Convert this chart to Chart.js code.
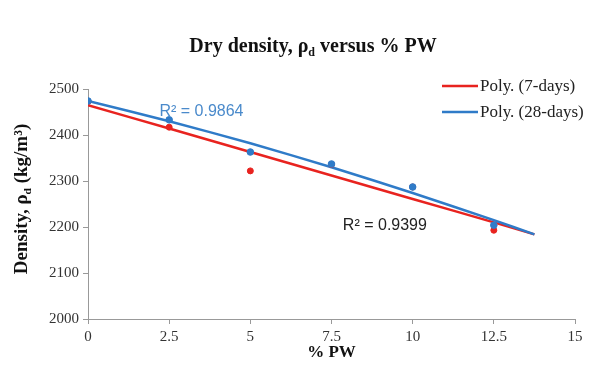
<!DOCTYPE html>
<html>
<head>
<meta charset="utf-8">
<script src="https://cdn.jsdelivr.net/npm/chart.js@4.4.1/dist/chart.umd.min.js"></script>
<style>
  html, body { margin: 0; padding: 0; background: #fff; }
</style>
</head>
<body>
<canvas id="grafico" width="605" height="365"></canvas>
<script>
// % PW values
const pw = [0, 2.5, 5, 7.5, 10, 12.5];
// measured dry density (kg/m3)
const dens7 = [2473, 2417, 2322, 2336, 2287, 2193];
const dens28 = [2474, 2433, 2363, 2337, 2287, 2204];
// polynomial trendlines
const trendX = [0, 2.5, 5, 7.5, 10, 12.5, 13.75];
const trend7 = [2465, 2414, 2363, 2312, 2261, 2210, 2184];
const trend28 = [2474, 2430, 2382, 2330, 2274, 2215, 2184];
const r2_7 = "R\u00B2 = 0.9399";
const r2_28 = "R\u00B2 = 0.9864";

const rojo = "#e8231f";
const azul = "#2f7bc8";
const serif = "'Liberation Serif', 'Times New Roman', serif";

const pares = (xs, ys) => xs.map((x, i) => ({ x: x, y: ys[i] }));

// draws text pieces in a row, "sub" pieces smaller and lowered
function textoConSub(ctx, partes, x, y, size, centrado) {
    const medir = p => {
        ctx.font = "bold " + (p.sub ? size * 0.6 : size) + "px " + serif;
        return ctx.measureText(p.t).width;
    };
    const total = partes.reduce((s, p) => s + medir(p), 0);
    let cx = centrado ? x - total / 2 : x;
    partes.forEach(p => {
        const w = medir(p);
        ctx.fillText(p.t, cx, p.sub ? y + size * 0.3 : y);
        cx += w;
    });
}

const textos = {
    id: "textos",
    afterDraw(chart) {
        const ctx = chart.ctx;
        ctx.save();
        ctx.textBaseline = "middle";
        ctx.textAlign = "left";
        ctx.fillStyle = "#111";
        // title
        textoConSub(ctx, [{ t: "Dry density, \u03C1" }, { t: "d", sub: true }, { t: " versus % PW" }],
            313, 47, 20, true);
        // y axis title
        ctx.save();
        ctx.translate(22, 199);
        ctx.rotate(-Math.PI / 2);
        textoConSub(ctx, [{ t: "Density, \u03C1" }, { t: "d", sub: true }, { t: " (kg/m\u00B3)" }],
            0, 0, 19, true);
        ctx.restore();

        // legend
        const items = [
            { texto: "Poly. (7-days)", color: rojo, y: 86 },
            { texto: "Poly. (28-days)", color: azul, y: 112 }
        ];
        ctx.font = "17px " + serif;
        items.forEach(it => {
            ctx.strokeStyle = it.color;
            ctx.lineWidth = 2.5;
            ctx.beginPath();
            ctx.moveTo(442, it.y);
            ctx.lineTo(478, it.y);
            ctx.stroke();
            ctx.fillStyle = "#222";
            ctx.fillText(it.texto, 480, it.y + 1);
        });
        // R² labels anchored to the scales
        const sx = chart.scales.x, sy = chart.scales.y;
        ctx.font = "16px 'Liberation Sans', Arial, sans-serif";
        ctx.fillStyle = "#4a8acb";
        ctx.fillText(r2_28, sx.getPixelForValue(2.2), sy.getPixelForValue(2450));
        ctx.fillStyle = "#222";
        ctx.fillText(r2_7, sx.getPixelForValue(7.85), sy.getPixelForValue(2204));
        ctx.restore();
    }
};

new Chart(document.getElementById("grafico"), {
    type: "scatter",
    data: {
        datasets: [
            {
                label: "28-days",
                data: pares(pw, dens28),
                backgroundColor: azul,
                borderColor: azul,
                pointRadius: 3.3
            },
            {
                label: "7-days",
                data: pares(pw, dens7),
                backgroundColor: rojo,
                borderColor: rojo,
                pointRadius: 3
            },
            {
                label: "Poly. (28-days)",
                data: pares(trendX, trend28),
                showLine: true,
                borderColor: azul,
                borderWidth: 2.5,
                pointRadius: 0,
                tension: 0.2
            },
            {
                label: "Poly. (7-days)",
                data: pares(trendX, trend7),
                showLine: true,
                borderColor: rojo,
                borderWidth: 2.5,
                pointRadius: 0,
                tension: 0.2
            }
        ]
    },
    options: {
        responsive: false,
        animation: false,
        layout: { padding: { top: 89, right: 30, bottom: 0, left: 0 } },
        plugins: {
            legend: { display: false },
            tooltip: { enabled: false },
            title: { display: false }
        },
        scales: {
            x: {
                type: "linear",
                min: 0,
                max: 15,
                ticks: {
                    stepSize: 2.5,
                    color: "#333",
                    font: { family: serif, size: 15 },
                    padding: 4,
                    maxRotation: 0
                },
                grid: { drawOnChartArea: false, drawTicks: true, tickLength: 5, color: "#999" },
                border: { color: "#999" },
                title: {
                    display: true,
                    text: "% PW",
                    color: "#111",
                    font: { family: serif, size: 17, weight: "bold" },
                    padding: { top: 0, bottom: 2 }
                },
                afterFit(scale) { scale.height = 46; }
            },
            y: {
                min: 2000,
                max: 2500,
                ticks: {
                    stepSize: 100,
                    color: "#333",
                    font: { family: serif, size: 15 },
                    padding: 4,
                    callback: v => String(v)
                },
                grid: { drawOnChartArea: false, drawTicks: true, tickLength: 5, color: "#999" },
                border: { color: "#999" },
                afterFit(scale) { scale.width = 88; }
            }
        }
    },
    plugins: [textos]
});
</script>
</body>
</html>
